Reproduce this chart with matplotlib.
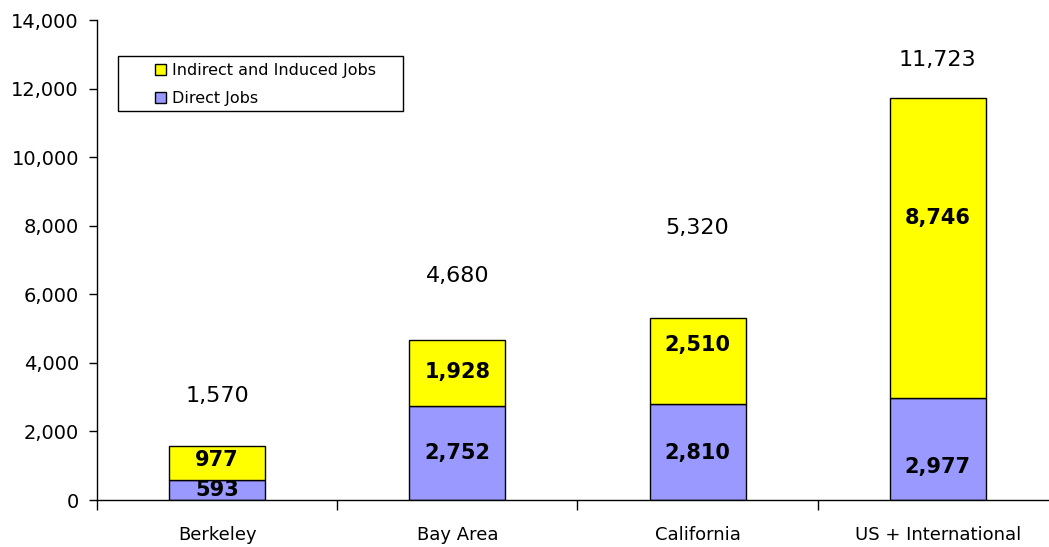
import numpy as np
import matplotlib
matplotlib.use("Agg")
import matplotlib.pyplot as plt
from matplotlib.patches import Rectangle
from matplotlib.ticker import FuncFormatter, FixedLocator

## data
regions = ["Berkeley", "Bay Area", "California", "US + International"]
direct_jobs = [593, 2752, 2810, 2977]
indirect_jobs = [977, 1928, 2510, 8746]
totals = [1570, 4680, 5320, 11723]

## where the labels sit (data units)
total_label_y = [3033, 6533, 7933, 12833]
indirect_label_y = [1167, 3733, 4521, 8225]
direct_label_y = [292, 1371, 1371, 963]

purple = "#9999FF"
yellow = "#FFFF00"

plt.rcParams["font.family"] = ["DejaVu Sans"]

fig = plt.figure(figsize=(10.49, 5.47), dpi=100)
ax = fig.add_axes([0.0925, 0.0859, 0.916, 0.8775])

x = np.arange(len(regions))
b1 = ax.bar(x, direct_jobs, width=0.4, color=purple, edgecolor="black", linewidth=1,
            label="Direct Jobs")
b2 = ax.bar(x, indirect_jobs, width=0.4, bottom=direct_jobs, color=yellow,
            edgecolor="black", linewidth=1, label="Indirect and Induced Jobs")

for i in range(len(regions)):
    ax.text(x[i], total_label_y[i], f"{totals[i]:,}", ha="center", va="center",
            fontsize=16)
    ax.text(x[i], indirect_label_y[i], f"{indirect_jobs[i]:,}", ha="center",
            va="center", fontsize=15, fontweight="bold")
    ax.text(x[i], direct_label_y[i], f"{direct_jobs[i]:,}", ha="center",
            va="center", fontsize=15, fontweight="bold")

ax.set_xlim(-0.5, 3.5)
ax.set_ylim(0, 14000)
ax.set_yticks(np.arange(0, 14001, 2000))
ax.yaxis.set_major_formatter(FuncFormatter(lambda v, p: f"{int(v):,}"))
ax.tick_params(axis="y", labelsize=14, length=6, width=1, direction="out", pad=7)

# category separators as major ticks, names as minor ticks
ax.xaxis.set_major_locator(FixedLocator([-0.5, 0.5, 1.5, 2.5, 3.5]))
ax.xaxis.set_major_formatter(FuncFormatter(lambda v, p: ""))
ax.xaxis.set_minor_locator(FixedLocator(x))
ax.set_xticklabels(regions, minor=True)
ax.tick_params(axis="x", which="major", length=7, width=1, direction="out")
ax.tick_params(axis="x", which="minor", length=0, labelsize=13, pad=19)

for s in ["top", "right"]:
    ax.spines[s].set_visible(False)
for s in ["left", "bottom"]:
    ax.spines[s].set_linewidth(1)

## legend: wide box drawn separately, like the original
ax.add_patch(Rectangle((0.0219, 0.8104), 0.2965, 0.1146, transform=ax.transAxes,
                       facecolor="white", edgecolor="black", linewidth=1, zorder=4))
leg = ax.legend(handles=[b2, b1], loc="upper left", bbox_to_anchor=(0.06, 0.91),
                fontsize=11.5, frameon=False,
                handlelength=0.7, handleheight=0.7, handletextpad=0.4,
                borderpad=0, labelspacing=0.8, borderaxespad=0)
leg.set_zorder(5)

fig.savefig("out.png", dpi=100)
